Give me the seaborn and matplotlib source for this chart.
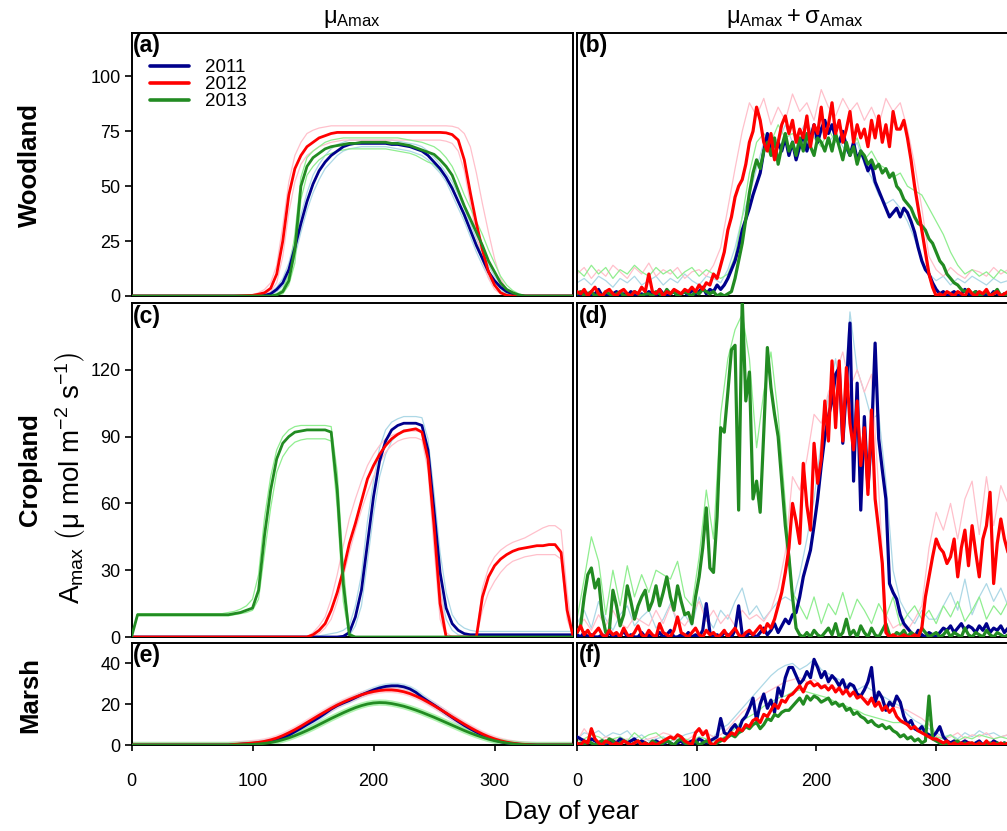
import numpy as np
import matplotlib
matplotlib.use("Agg")
import matplotlib.pyplot as plt
import seaborn as sns

# ---------------------------------------------------------------- day grids
days5 = np.arange(0, 366, 5)    # smooth mean curves
days3 = np.arange(0, 364, 3)    # mean + sd daily series
days6 = np.arange(0, 361, 6)    # companion runs of the mean + sd series

years = ["2011", "2012", "2013"]
main_colors = {"2011": "#00008B", "2012": "#FF0000", "2013": "#228B22"}
faint_colors = {"2011": "#ADD8E6", "2012": "#FFC0CB", "2013": "#90EE90"}

# ============================================================ Woodland, mean
wood_mu_2011 = [0,0,0,0,0,0,0,0,0,0, 0,0,0,0,0,0,0,0,0,0,
                0,0,0.3,1,3,6,12,22,33,43, 51,57,61,64,66,68,69,69.5,69.5,69.5,
                69.5,69.5,69.5,69,69,68.5,68,67,66,64, 61,58,54,49,43,37,30,23,17,11,
                7,4,2,1,0.3,0,0,0,0,0, 0,0,0,0]
wood_mu_2012 = [0,0,0,0,0,0,0,0,0,0, 0,0,0,0,0,0,0,0,0.1,0.2,
                0.3,0.8,1.5,3.5,10,25,46,58,64,68, 70,72,73,74,74.5,74.5,74.5,74.5,74.5,74.5,
                74.5,74.5,74.5,74.5,74.5,74.5,74.5,74.5,74.5,74.5, 74.5,74.5,74.3,73.5,71,62,47,33,21,11,
                5,1.5,0.3,0,0,0,0,0,0,0, 0,0,0,0]
wood_mu_2013 = [0,0,0,0,0,0,0,0,0,0, 0,0,0,0,0,0,0,0,0,0,
                0,0,0,0,0.5,2,7,21,50,59, 63,65,67,68,68.5,69,69.5,69.5,70,70,
                70,70,70,69.5,69.5,69,68.5,67.5,66.5,65.5, 64.5,62,59,55,48,41,35,29,23,16,
                11,6,3,1.5,0.5,0,0,0,0,0, 0,0,0,0]
wood_mu_2011_hi = [0,0,0,0,0,0,0,0,0,0, 0,0,0,0,0,0,0,0,0,0,
                   0,0,0.5,1.5,4,8,15,26,37,47, 55,60,64,67,69,70,71,71,71,71,
                   71,71,71,71,70.5,70,69.5,69,68,66, 63,60,56,52,46,40,33,26,20,14,
                   9,5.5,3,1.5,0.5,0,0,0,0,0, 0,0,0,0]
wood_mu_2011_lo = [0,0,0,0,0,0,0,0,0,0, 0,0,0,0,0,0,0,0,0,0,
                   0,0,0,0.5,2,4.5,9,18,29,39, 47,53,58,61,64,66,67,67.5,68,68,
                   68,68,68,67.5,67,66.5,66,65,64,62, 59,56,52,46,40,34,27,20,14,8.5,
                   5,2.5,1,0.3,0,0,0,0,0,0, 0,0,0,0]
wood_mu_2012_hi = [0,0,0,0,0,0,0,0,0,0, 0,0,0,0,0,0,0,0,0,0,
                   0.5,1.5,3,6,14,32,52,64,70,74, 75.5,76.5,77,77.5,77.5,77.5,77.5,77.5,77.5,77.5,
                   77.5,77.5,77.5,77.5,77.5,77.5,77.5,77.5,77.5,77.5, 77.5,77.5,77.5,77.3,76.5,74,68,56,42,29,
                   17,8,3,1,0.3,0,0,0,0,0, 0,0,0,0]
wood_mu_2012_lo = [0,0,0,0,0,0,0,0,0,0, 0,0,0,0,0,0,0,0,0,0,
                   0,0.5,1,2,6,18,38,52,60,64, 66,68,69,70,70.5,71,71,71,71,71,
                   71,71,71,71,71,71,71,71,71,71, 71,71,70.5,69.5,66,57,42,28,16,8,
                   3,1,0.3,0,0,0,0,0,0,0, 0,0,0,0]
wood_mu_2013_hi = [0,0,0,0,0,0,0,0,0,0, 0,0,0,0,0,0,0,0,0,0,
                   0,0,0,0.3,1,3,10,28,54,63, 66,68,70,71,71.5,72,72,72,72,72,
                   72,72,72,72,72,71.5,71,70.5,70,69, 68,66,63,59,53,46,40,34,28,21,
                   15,9,5,2.5,1,0.3,0,0,0,0, 0,0,0,0]
wood_mu_2013_lo = [0,0,0,0,0,0,0,0,0,0, 0,0,0,0,0,0,0,0,0,0,
                   0,0,0,0,0.3,1,5,15,44,55, 59,62,64,65,66,66.5,67,67,67,67,
                   67,67,67,66.5,66,65.5,65,64,62.5,61, 60,57,54,50,43,36,30,24,18,12,
                   7,3.5,1.5,0.5,0,0,0,0,0,0, 0,0,0,0]

# ============================================================ Cropland, mean
crop_mu_2011 = [0,0,0,0,0,0,0,0,0,0, 0,0,0,0,0,0,0,0,0,0, 0,0,0,0,0,0,0,0,0,0,
                0,0,0,0,0,0.3,2,9,21,42, 63,79,88,93,95,96,96,96,95,84,
                57,29,13,6,3,1.5,1,1,1,1, 1,1,1,1,1,1,1,1,1,1, 1,1,1,1]
crop_mu_2012 = [0,0,0,0,0,0,0,0,0,0, 0,0,0,0,0,0,0,0,0,0, 0,0,0,0,0,0,0,0,0,0,
                1,3,6,12,20,30,42,51,61,71, 77,82,86,89,91,92.5,93,93.5,92,80,
                50,15,0,0,0,0,0,0,18,27, 32,35,37,38.5,39.5,40,40.5,41,41,41.5, 41.5,38,12,0]
crop_mu_2013 = [0,10,10,10,10,10,10,10,10,10, 10,10,10,10,10,10,10,10.5,11,12,
                13,21,46,66,80,87,90,92,92.5,93, 93,93,93,92,66,24,1,0,0,0,
                0,0,0,0,0,0,0,0,0,0, 0,0,0,0,0,0,0,0,0,0, 0,0,0,0,0,0,0,0,0,0, 0,0,0,0]
crop_mu_2011_hi = [0.3,0.3,0.3,0.3,0.3,0.3,0.3,0.3,0.3,0.3, 0.3,0.3,0.3,0.3,0.3,0.3,0.3,0.3,0.3,0.3,
                   0.3,0.3,0.3,0.3,0.3,0.3,0.3,0.3,0.3,0.3,
                   0.5,0.5,1,1.5,2,3,5,14,28,52, 70,85,93,96.5,98,99,99,99,98.5,89,
                   65,38,20,10,6,4,3,2.5,2.5,2.5, 2.5,2.5,2.5,2.5,2.5,2.5,2.5,2.5,2.5,2.5, 2.5,2.5,2.5,2.5]
crop_mu_2011_lo = [0,0,0,0,0,0,0,0,0,0, 0,0,0,0,0,0,0,0,0,0, 0,0,0,0,0,0,0,0,0,0,
                   0,0,0,0,0,0,0.5,5,14,34, 55,72,82,88,91,93,93,93,92,78,
                   48,22,8,3,1,0.5,0.3,0.3,0.3,0.3, 0.3,0.3,0.3,0.3,0.3,0.3,0.3,0.3,0.3,0.3, 0.3,0.3,0.3,0.3]
crop_mu_2012_hi = [0,0,0,0,0,0,0,0,0,0, 0,0,0,0,0,0,0,0,0,0, 0,0,0,0,0,0,0,0,0,0,
                   2,5,9,17,28,41,53,62,70,77, 82,86,89,90.5,91.5,92,92.5,92.5,92,84,
                   58,22,2,0,0,0,0,0,22,31, 36,39,41,42.5,43.5,44.5,46,47.5,49,50, 50,48,20,0]
crop_mu_2012_lo = [0,0,0,0,0,0,0,0,0,0, 0,0,0,0,0,0,0,0,0,0, 0,0,0,0,0,0,0,0,0,0,
                   0.5,1.5,4,8,16,27,38,48,57,65, 72,78,83,86,88,89,89.5,89.5,88.5,75,
                   40,8,0,0,0,0,0,0,12,20, 25,29,32,34,35,36,36.5,37,37,37, 37,35,8,0]
crop_mu_2013_hi = [0,10.5,10.5,10.5,10.5,10.5,10.5,10.5,10.5,10.5, 10.5,10.5,10.5,10.5,10.5,10.5,11,11.5,12.5,14,
                   17,28,54,72,84,90,93,94.5,95,95, 95,95,95,94.5,74,32,2,0,0,0,
                   0,0,0,0,0,0,0,0,0,0, 0,0,0,0,0,0,0,0,0,0, 0,0,0,0,0,0,0,0,0,0, 0,0,0,0]
crop_mu_2013_lo = [0,9.5,9.5,9.5,9.5,9.5,9.5,9.5,9.5,9.5, 9.5,9.5,9.5,9.5,9.5,9.5,9.5,10,10.5,11,
                   12,17,38,58,74,81,85,87.5,88.5,89, 89,89,89,88,58,16,0,0,0,0,
                   0,0,0,0,0,0,0,0,0,0, 0,0,0,0,0,0,0,0,0,0, 0,0,0,0,0,0,0,0,0,0, 0,0,0,0]

# =============================================================== Marsh, mean
marsh_mu_2011 = [0,0,0,0,0,0,0,0,0,0, 0,0,0,0,0,0,0,0.2,0.4,0.6,
                 0.8,1,1.3,1.8,2.4,3.4,4.8,6.5,8.2,10, 11.7,13.5,15.5,17.6,19.3,20.6,21.8,23.2,24.6,25.8,
                 27,28,28.7,29,29,28.5,27.5,25.8,23.5,21.5, 19.6,17.6,15.5,13.5,11.5,9.6,7.9,6.3,4.8,3.5,
                 2.4,1.6,1,0.6,0.4,0.2,0.1,0,0,0, 0,0,0,0]
marsh_mu_2012 = [0,0,0,0,0,0,0,0,0,0, 0,0,0,0,0,0,0,0.3,0.5,0.7,
                 1,1.3,1.8,2.5,3.4,4.6,6,7.5,9.2,11, 12.8,14.6,16.3,18,19.6,21,22.3,23.5,24.6,25.5,
                 26.2,26.7,27,27,26.7,26.1,25.2,24,22.6,21, 19.3,17.5,15.7,13.8,12,10.2,8.5,6.9,5.4,4.1,
                 3,2.1,1.4,0.9,0.5,0.3,0.1,0,0,0, 0,0,0,0]
marsh_mu_2013 = [0,0,0,0,0,0,0,0,0,0, 0,0,0,0,0,0,0,0,0.1,0.2,
                 0.3,0.5,0.8,1.2,1.8,2.6,3.5,4.6,5.8,7.1, 8.5,10,11.5,13,14.4,15.8,17.1,18.3,19.3,20.1,
                 20.6,20.8,20.7,20.3,19.7,19,18.1,17.1,16,14.8, 13.6,12.3,11,9.7,8.4,7.1,5.9,4.8,3.8,2.9,
                 2.1,1.5,1,0.6,0.3,0.1,0,0,0,0, 0,0,0,0]

# ====================================================== Woodland, mean + sd
wood_sd_2011 = [1,0,2,1,0,1,3,0,1,0, 1,2,0,1,0,2,1,0,1,0, 2,1,0,3,1,0,1,2,0,1,
                2,0,3,1,2,4,1,3,2,5, 3,5,8,12,16,22,30,35,40,46, 51,56,66,74,68,63,70,66,72,64,
                70,62,68,74,66,72,78,70,76,80, 74,78,72,70,75,68,64,70,62,66,
                62,57,60,52,48,44,40,36,38,40, 36,40,38,34,29,22,16,12,10,6,
                3,1,2,0,1,2,0,1,3,1, 0,2,1,0,1,0,2,1,0,1, 0,1]
wood_sd_2012 = [2,1,3,0,2,4,1,0,2,3, 1,0,2,3,1,0,2,1,4,2, 10,2,1,3,0,2,1,3,2,1,
                3,2,4,2,5,3,6,5,10,8, 14,20,30,36,45,50,53,60,70,75, 86,80,70,66,74,62,70,78,82,74,
                80,70,76,72,82,68,78,74,86,72, 78,88,74,80,70,76,84,70,78,72,
                76,68,80,72,82,70,78,68,84,76, 76,80,72,62,50,40,30,20,10,4,
                0,1,0,2,1,0,2,1,0,3, 1,0,2,1,3,0,1,2,0,1, 2,0]
wood_sd_2013 = [1,2,0,1,2,0,1,0,2,1, 0,1,2,0,1,0,2,1,0,1, 1,0,2,1,0,3,1,2,0,1,
                2,1,0,2,1,3,2,1,2,0, 1,0,1,2,8,16,24,35,47,56, 62,58,66,70,64,72,60,68,74,66,
                70,64,72,66,74,68,64,72,70,66, 72,66,74,68,62,70,64,68,60,66,
                64,60,62,58,60,56,58,54,56,50, 48,44,42,40,36,33,32,30,26,24,
                20,16,14,10,8,6,5,3,2,3, 1,2,0,1,2,0,1,3,0,1, 0,2]
wood_sd_2011_hi = [6,8,5,9,7,4,8,6,9,5, 7,9,5,8,6,10,7,5,9,8,
                   6,12,22,36,46,58,70,74,70,78, 70,74,80,72,76,70,74,68,64,70,
                   60,54,46,42,44,40,34,26,16,10, 7,9,5,8,6,9,7,5,8,6, 7]
wood_sd_2012_hi = [10,13,8,12,9,14,11,8,13,10, 15,9,12,10,13,8,11,12,9,14,
                   22,40,58,75,88,82,90,78,86,80, 92,84,88,80,94,86,82,90,84,88,
                   80,86,78,90,84,88,76,60,40,18, 12,9,13,10,8,12,11,9,13,10, 12]
wood_sd_2013_hi = [12,9,14,10,13,8,12,10,14,11, 9,13,10,12,8,11,13,9,12,10,
                   8,10,18,36,56,70,74,70,78,72, 74,70,78,72,68,76,70,74,66,72,
                   62,66,60,58,54,56,50,48,46,40, 34,28,20,14,10,12,9,11,8,12, 10]

# ====================================================== Cropland, mean + sd
crop_sd_2011 = [1,0,2,0,1,0,0,1,0,2, 0,1,0,3,0,1,0,0,2,0, 1,0,0,2,0,1,3,0,0,1,
                0,2,0,1,0,3,15,2,0,1, 0,2,1,0,3,14,1,0,2,1, 0,2,4,1,3,6,2,5,8,6,
                10,11,18,27,33,39,50,62,77,90, 99,106,118,121,87,112,141,70,114,57,
                99,67,90,132,89,75,62,24,20,17, 10,6,4,2,0,3,1,0,2,1,
                0,2,4,3,5,2,4,6,3,5, 4,2,5,3,6,2,4,3,5,2, 4,3]
crop_sd_2012 = [2,5,1,3,0,2,4,1,0,3, 1,2,0,4,1,0,2,5,1,0, 3,1,0,6,2,1,0,3,9,2,
                1,0,2,4,1,0,3,1,2,0, 1,3,0,2,4,1,0,2,3,1, 3,5,2,6,4,8,14,20,29,40,
                60,52,42,78,59,48,87,69,80,106, 88,124,94,124,88,121,96,84,106,77,
                94,64,102,62,48,33,2,0,1,0, 0,1,0,0,1,0,4,18,27,36,
                44,40,38,33,36,44,27,40,48,32, 50,38,27,44,50,65,24,42,53,44, 38,46]
crop_sd_2013 = [2,5,18,28,31,22,26,10,2,3, 21,14,5,10,23,16,8,14,18,21, 12,16,23,14,20,27,18,12,23,16,
                10,11,6,18,27,40,58,31,29,54, 94,92,110,129,131,57,152,106,119,62, 70,56,92,130,112,100,90,70,50,36,
                18,4,1,0,2,0,3,1,0,2, 4,1,6,0,2,8,1,3,0,5,
                2,0,4,1,0,3,6,1,0,2, 1,3,0,2,1,0,4,2,0,1,
                2,0,1,3,0,2,1,0,4,1, 0,2,1,0,3,1,0,2,1,0, 1,2]
crop_sd_2011_hi = [6,12,4,16,8,3,10,14,5,9, 12,4,8,15,6,10,5,18,9,4,
                   12,8,16,22,10,14,8,12,16,18, 16,28,44,62,88,108,125,100,146,120,
                   110,98,100,70,30,16,10,6,12,8, 8,14,20,12,26,10,18,24,16,22, 14]
crop_sd_2012_hi = [4,8,3,10,5,12,6,4,9,7, 5,12,6,14,8,5,10,16,7,12,
                   6,10,5,12,8,10,7,12,22,38, 72,66,80,100,96,110,118,128,112,120,
                   110,118,66,10,4,6,3,8,14,40, 56,48,60,44,62,70,46,72,50,68, 60]
crop_sd_2013_hi = [8,26,45,34,10,30,14,32,18,28, 20,30,28,26,34,18,14,36,66,44,
                   100,125,138,145,125,85,110,128,100,60, 20,14,8,18,6,15,10,20,8,17,
                   12,6,15,9,18,5,10,14,8,12, 6,14,9,16,7,12,18,8,14,10, 16]

# ========================================================= Marsh, mean + sd
marsh_sd_2011 = [4,3,2,1,3,2,1,2,0,1, 2,1,3,2,1,2,3,1,2,1, 0,1,2,1,0,2,1,0,1,2,
                 0,1,2,1,3,2,1,2,3,4, 13,6,5,8,10,7,12,14,18,23, 12,20,25,18,22,16,28,24,33,38,
                 38,34,30,32,36,33,42,38,33,36, 31,34,32,29,32,27,30,29,25,24,
                 27,31,38,21,26,23,17,21,19,24, 21,14,10,12,8,7,9,6,5,4,
                 6,9,4,2,1,2,0,1,2,1, 0,1,2,0,1,0,2,1,0,1, 0,1]
marsh_sd_2012 = [1,0,2,1,8,3,1,0,2,1, 0,1,0,2,1,0,1,2,0,1, 0,1,0,1,2,3,4,3,5,4,
                 2,1,0,6,8,5,7,1,0,2, 3,2,4,6,5,8,7,10,9,12, 13,11,15,14,17,20,18,22,21,24,
                 25,27,29,26,30,31,29,30,28,29, 27,29,26,28,25,27,24,26,23,24,
                 22,20,23,19,21,17,19,16,18,14, 12,11,10,8,9,7,6,5,4,3,
                 3,2,1,2,0,1,0,1,0,1, 1,0,1,0,2,0,1,0,1,0, 1,0]
marsh_sd_2013 = [0,1,0,2,1,0,1,2,1,3, 2,0,1,2,1,0,1,2,0,1, 0,2,1,0,1,2,1,0,2,3,
                 1,0,1,2,0,1,2,1,0,1, 2,3,4,5,4,6,7,9,8,10, 11,8,10,13,12,15,14,16,17,17,
                 19,21,23,20,24,22,24,23,21,22, 23,20,21,19,20,17,18,15,16,14,
                 13,11,12,10,9,10,8,9,7,6, 4,5,3,4,2,3,1,2,24,3,
                 2,1,0,1,0,1,2,0,1,0, 1,0,1,0,0,1,0,1,0,1, 0,1]
marsh_sd_2011_hi = [3,6,5,7,4,6,5,7,3,5, 2,3,4,2,3,5,6,7,6,4,
                    8,10,14,18,22,26,30,34,37,39, 40,37,39,42,37,35,33,31,29,27,
                    29,27,25,23,21,19,15,12,10,8, 6,4,5,3,6,4,7,5,6,4, 5]
marsh_sd_2012_hi = [2,8,3,2,4,3,2,3,1,2, 3,4,6,5,3,2,4,8,6,4,
                    5,8,12,16,19,22,25,27,29,31, 32,33,31,32,29,30,28,27,26,25,
                    23,22,21,20,19,18,17,15,13,10, 5,3,4,6,3,5,4,6,3,4, 5]
marsh_sd_2013_hi = [2,3,5,4,2,3,4,2,6,3, 5,6,3,2,4,3,2,4,3,2,
                    3,5,8,12,14,16,19,21,23,24, 26,27,26,25,24,23,21,20,18,17,
                    15,14,13,12,11,11,10,9,7,13, 4,3,5,2,4,3,5,4,3,4, 3]

# ------------------------------------------------------------ panel tables
mean_panels = [
    {"main": [wood_mu_2011, wood_mu_2012, wood_mu_2013],
     "faint": [(wood_mu_2011_hi, wood_mu_2011_lo), (wood_mu_2012_hi, wood_mu_2012_lo),
               (wood_mu_2013_hi, wood_mu_2013_lo)]},
    {"main": [crop_mu_2011, crop_mu_2012, crop_mu_2013],
     "faint": [(crop_mu_2011_hi, crop_mu_2011_lo), (crop_mu_2012_hi, crop_mu_2012_lo),
               (crop_mu_2013_hi, crop_mu_2013_lo)]},
    {"main": [marsh_mu_2011, marsh_mu_2012, marsh_mu_2013], "faint": None},
]
sd_panels = [
    {"main": [wood_sd_2011, wood_sd_2012, wood_sd_2013],
     "faint": [wood_sd_2011_hi, wood_sd_2012_hi, wood_sd_2013_hi]},
    {"main": [crop_sd_2011, crop_sd_2012, crop_sd_2013],
     "faint": [crop_sd_2011_hi, crop_sd_2012_hi, crop_sd_2013_hi]},
    {"main": [marsh_sd_2011, marsh_sd_2012, marsh_sd_2013],
     "faint": [marsh_sd_2011_hi, marsh_sd_2012_hi, marsh_sd_2013_hi]},
]

row_names = ["Woodland", "Cropland", "Marsh"]
ylims = [(0, 120), (0, 150), (0, 50)]
yticks = [[0, 25, 50, 75, 100], [0, 30, 60, 90, 120], [0, 20, 40]]
xticks = [0, 100, 200, 300]
panel_tags = [["(a)", "(b)"], ["(c)", "(d)"], ["(e)", "(f)"]]

# ------------------------------------------------------------------ styling
sns.set_theme(style="ticks")
plt.rcParams["font.family"] = ["Liberation Sans", "DejaVu Sans"]
plt.rcParams["mathtext.fontset"] = "custom"
plt.rcParams["mathtext.rm"] = "Liberation Sans"
plt.rcParams["mathtext.it"] = "Liberation Sans:italic"
plt.rcParams["mathtext.bf"] = "Liberation Sans:bold"
plt.rcParams["axes.edgecolor"] = "black"
plt.rcParams["axes.linewidth"] = 1.4
plt.rcParams["text.color"] = "black"
plt.rcParams["axes.labelcolor"] = "black"
plt.rcParams["xtick.color"] = "black"
plt.rcParams["ytick.color"] = "black"

W, H = 1007, 831
fig = plt.figure(figsize=(W / 100, H / 100), dpi=100)

col_px = [(131.5, 441.7), (577.0, 437.0)]                  # left edge, width
row_px = [(296.0, 263.5), (637.0, 334.0), (745.0, 102.0)]  # bottom, height

MAIN_LW_LEFT = 2.0
MAIN_LW_RIGHT = 2.3
FAINT_LW = 0.9


def line(ax, x, y, color, lw, label=None, alpha=1.0, z=2):
    sns.lineplot(x=x, y=np.asarray(y, dtype=float), ax=ax, color=color, lw=lw,
                 estimator=None, sort=False, label=label, legend=False,
                 alpha=alpha, zorder=z)


axes = {}
for r in range(3):
    for c in range(2):
        x0, w = col_px[c]
        b, h = row_px[r]
        ax = fig.add_axes([x0 / W, 1 - b / H, w / W, h / H])
        axes[(r, c)] = ax

        if c == 0:
            panel = mean_panels[r]
            if panel["faint"] is not None:
                for yr, (hi, lo) in zip(years, panel["faint"]):
                    line(ax, days5, hi, faint_colors[yr], FAINT_LW, z=1)
                    line(ax, days5, lo, faint_colors[yr], FAINT_LW, z=1)
            else:
                for yr, vals in zip(years, panel["main"]):
                    line(ax, days5, vals, faint_colors[yr], 4.5, z=1, alpha=0.7)
            for yr, vals in zip(years, panel["main"]):
                lab = yr if r == 0 else None
                line(ax, days5, vals, main_colors[yr], MAIN_LW_LEFT, label=lab, z=3)
        else:
            panel = sd_panels[r]
            for yr, vals in zip(years, panel["faint"]):
                line(ax, days6, vals, faint_colors[yr], FAINT_LW, z=1)
            for yr in ["2011", "2013", "2012"]:
                vals = panel["main"][years.index(yr)]
                line(ax, days3, vals, main_colors[yr], MAIN_LW_RIGHT, z=3)

        ax.set_xlim(0, 365)
        ax.set_ylim(*ylims[r])
        ax.set_xlabel("")
        ax.set_ylabel("")
        for s in ax.spines.values():
            s.set_visible(True)
            s.set_color("black")
            s.set_linewidth(1.4)

        ax.set_xticks(xticks)
        if r == 2:
            ax.tick_params(axis="x", direction="out", length=4, width=1.2,
                           labelsize=13, pad=16, colors="black")
        else:
            ax.tick_params(axis="x", bottom=False, labelbottom=False)
        ax.set_yticks(yticks[r])
        if c == 0:
            ax.tick_params(axis="y", direction="out", length=5, width=1.2,
                           labelsize=13, pad=3, colors="black")
        else:
            ax.tick_params(axis="y", left=False, labelleft=False)

        ax.text(0.004, 0.995, panel_tags[r][c], transform=ax.transAxes,
                ha="left", va="top", fontsize=16.5, fontweight="bold", zorder=5)

# legend in panel (a)
ax_a = axes[(0, 0)]
handles, labels = ax_a.get_legend_handles_labels()
leg = ax_a.legend(handles, labels, loc="upper left",
                  bbox_to_anchor=((150 - 131.5) / 441.7, 1 - (59 - 32.5) / 263.5),
                  frameon=False, fontsize=13.5, handlelength=2.1, handletextpad=0.85,
                  labelspacing=0.0, borderpad=0, borderaxespad=0)
for lh in leg.get_lines():
    lh.set_linewidth(2.6)

# column headers
fig.text(352 / W, 1 - 19 / H, r"$\mathrm{μ_{Amax}}$", ha="center", va="center", fontsize=17)
fig.text(795 / W, 1 - 19 / H, r"$\mathrm{μ_{Amax}+σ_{Amax}}$", ha="center", va="center", fontsize=17)

# row names
for name, yc in zip(row_names, [165, 470, 695]):
    fig.text(30 / W, 1 - yc / H, name, rotation=90, ha="center", va="center",
             fontsize=18.5, fontweight="bold")

# shared y label
fig.text(70 / W, 1 - 478 / H,
         r"$\mathrm{A_{max}}\ \left(\mathrm{μ\ mol\ m^{-2}\ s^{-1}}\right)$",
         rotation=90, ha="center", va="center", fontsize=20)

# shared x label
fig.text(572 / W, 1 - 812 / H, "Day of year", ha="center", va="center", fontsize=19)

fig.savefig("out.png", dpi=100)
